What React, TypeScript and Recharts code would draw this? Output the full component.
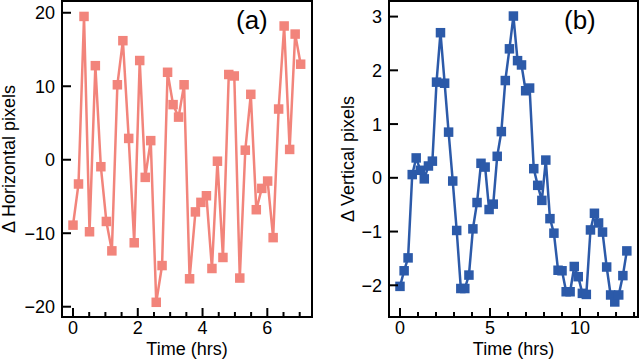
import { LineChart, Line, XAxis, YAxis, ReferenceArea, Label } from 'recharts';

// (a) horizontal drift, time in hours
const hTimes = [
  0, 0.17, 0.34, 0.51, 0.69, 0.86, 1.03, 1.2, 1.37, 1.54, 1.72, 1.89, 2.06, 2.23,
  2.4, 2.57, 2.75, 2.92, 3.09, 3.26, 3.43, 3.6, 3.78, 3.95, 4.12, 4.29, 4.46, 4.63,
  4.81, 4.98, 5.15, 5.32, 5.49, 5.66, 5.83, 6.01, 6.18, 6.35, 6.52, 6.69, 6.86, 7.03,
];
const hShift = [
  -8.9, -3.3, 19.5, -9.8, 12.8, -0.95, -8.4, -12.4, 10.2, 16.2, 2.9, -11.3, 13.5, -2.4,
  2.6, -19.4, -14.4, 11.9, 7.5, 5.8, 10.2, -16.2, -7.1, -5.8, -4.9, -14.8, -0.2, -13.3,
  11.6, 11.4, -16.1, 1.3, 8.9, -6.8, -3.9, -2.9, -10.6, 6.9, 18.2, 1.4, 17.1, 13.0,
];

// (b) vertical drift
const vTimes = [
  0, 0.23, 0.45, 0.68, 0.9, 1.13, 1.35, 1.58, 1.8, 2.03, 2.25, 2.48, 2.7, 2.93, 3.15,
  3.38, 3.6, 3.83, 4.05, 4.28, 4.5, 4.73, 4.95, 5.18, 5.4, 5.63, 5.85, 6.08, 6.3, 6.53,
  6.75, 6.98, 7.2, 7.43, 7.65, 7.88, 8.1, 8.33, 8.55, 8.78, 9.0, 9.23, 9.45, 9.68, 9.9,
  10.13, 10.35, 10.58, 10.8, 11.03, 11.25, 11.48, 11.7, 11.93, 12.15, 12.38, 12.6,
];
const vShift = [
  -2.02, -1.73, -1.49, 0.06, 0.37, 0.14, -0.02, 0.22, 0.31, 1.78, 2.7, 1.76, 0.85, -0.06,
  -0.98, -2.06, -2.06, -1.81, -0.95, -0.46, 0.27, 0.2, -0.59, -0.49, 0.4, 0.86, 1.81, 2.4,
  3.01, 2.18, 2.1, 1.62, 1.67, 0.17, -0.14, -0.42, 0.33, -0.76, -1.03, -1.72, -1.73, -2.12,
  -2.12, -1.65, -1.84, -2.15, -2.17, -0.97, -0.66, -0.84, -1.01, -1.66, -2.18, -2.31, -2.18,
  -1.82, -1.36,
];

const hTicksX = [0, 0.5, 1, 1.5, 2, 2.5, 3, 3.5, 4, 4.5, 5, 5.5, 6, 6.5, 7];
const hMajorX = [0, 2, 4, 6];
const hTicksY = [-20, -10, 0, 10, 20];
const vTicksX = [0, 1, 2, 3, 4, 5, 6, 7, 8, 9, 10, 11, 12, 13];
const vMajorX = [0, 5, 10];
const vTicksY = [-2, -1, 0, 1, 2, 3];

const FONT = '"Liberation Sans", Arial, Helvetica, sans-serif';
const PINK = '#F2847B';
const BLUE = '#2C5AA9';

const fmt = (v: number) => String(v).replace('-', '\u2212');

const makeXTick = (majors: number[]) => (props: any) => {
  const { x, y, payload } = props;
  const major = majors.includes(payload.value);
  return (
    <g>
      <line x1={x} x2={x} y1={y} y2={y - (major ? 9 : 5)} stroke="#000" strokeWidth={2} />
      {major && (
        <text x={x} y={y + 17} textAnchor="middle" fontSize={18} fontFamily={FONT} fill="#000">
          {fmt(payload.value)}
        </text>
      )}
    </g>
  );
};

const YTick = (props: any) => {
  const { x, y, payload } = props;
  return (
    <g>
      <line x1={x} x2={x + 9} y1={y} y2={y} stroke="#000" strokeWidth={2} />
      <text x={x - 7} y={y + 6.5} textAnchor="end" fontSize={18} fontFamily={FONT} fill="#000">
        {fmt(payload.value)}
      </text>
    </g>
  );
};

const square = (color: string) => (props: any) => (
  <rect key={props.index} x={props.cx - 4.75} y={props.cy - 4.75} width={9.5} height={9.5} fill={color} />
);

const xTitle = (props: any) => {
  const vb = props.viewBox;
  return (
    <text x={vb.x + vb.width / 2} y={vb.y + 38} textAnchor="middle" fontSize={18} fontFamily={FONT} fill="#000">
      Time (hrs)
    </text>
  );
};

const yTitle = (text: string, bx: number) => (props: any) => {
  const vb = props.viewBox;
  const cy = vb.y + vb.height / 2;
  return (
    <text
      x={bx}
      y={cy}
      transform={`rotate(-90 ${bx} ${cy})`}
      textAnchor="middle"
      fontSize={18}
      fontFamily={FONT}
      fill="#000"
    >
      {text}
    </text>
  );
};

function Panel(props: {
  times: number[];
  values: number[];
  color: string;
  xDomain: [number, number];
  yDomain: [number, number];
  xTicks: number[];
  xMajors: number[];
  yTicks: number[];
  yWidth: number;
  right: number;
  yLabel: string;
  yLabelX: number;
}) {
  const data = props.times.map((t, i) => ({ t, v: props.values[i] }));
  return (
    <LineChart width={320} height={359} data={data} margin={{ top: 1, right: props.right, bottom: 0, left: 0 }}>
      <XAxis
        type="number"
        dataKey="t"
        domain={props.xDomain}
        ticks={props.xTicks}
        interval={0}
        allowDataOverflow
        axisLine={false}
        tickLine={false}
        tickSize={0}
        tickMargin={0}
        height={42}
        tick={makeXTick(props.xMajors)}
      >
        <Label content={xTitle} />
      </XAxis>
      <YAxis
        type="number"
        domain={props.yDomain}
        ticks={props.yTicks}
        interval={0}
        allowDataOverflow
        axisLine={false}
        tickLine={false}
        tickSize={0}
        tickMargin={0}
        width={props.yWidth}
        tick={YTick}
      >
        <Label content={yTitle(props.yLabel, props.yLabelX)} />
      </YAxis>
      <ReferenceArea
        x1={props.xDomain[0]}
        x2={props.xDomain[1]}
        y1={props.yDomain[0]}
        y2={props.yDomain[1]}
        fill="none"
        stroke="#000"
        strokeWidth={2}
        ifOverflow="visible"
      />
      <Line
        type="linear"
        dataKey="v"
        stroke={props.color}
        strokeWidth={2.5}
        dot={square(props.color)}
        activeDot={false}
        isAnimationActive={false}
      />
    </LineChart>
  );
}

export default function App() {
  return (
    <div style={{ position: 'absolute', left: 0, top: 0, width: 640, height: 359, background: '#fff', fontFamily: FONT }}>
      <div style={{ position: 'absolute', left: 0, top: 0 }}>
        <Panel
          times={hTimes}
          values={hShift}
          color={PINK}
          xDomain={[-0.34, 7.38]}
          yDomain={[-21.4, 21.6]}
          xTicks={hTicksX}
          xMajors={hMajorX}
          yTicks={hTicksY}
          yWidth={62}
          right={8}
          yLabel={'\u0394 Horizontal pixels'}
          yLabelX={15}
        />
      </div>
      <div style={{ position: 'absolute', left: 320, top: 0 }}>
        <Panel
          times={vTimes}
          values={vShift}
          color={BLUE}
          xDomain={[-0.61, 13.22]}
          yDomain={[-2.59, 3.29]}
          xTicks={vTicksX}
          xMajors={vMajorX}
          yTicks={vTicksY}
          yWidth={69}
          right={2}
          yLabel={'\u0394 Vertical pixels'}
          yLabelX={34}
        />
      </div>
      <div style={{ position: 'absolute', left: 236, top: 5, fontSize: 26, lineHeight: '30px', color: '#000' }}>(a)</div>
      <div style={{ position: 'absolute', left: 564, top: 5, fontSize: 26, lineHeight: '30px', color: '#000' }}>(b)</div>
    </div>
  );
}
